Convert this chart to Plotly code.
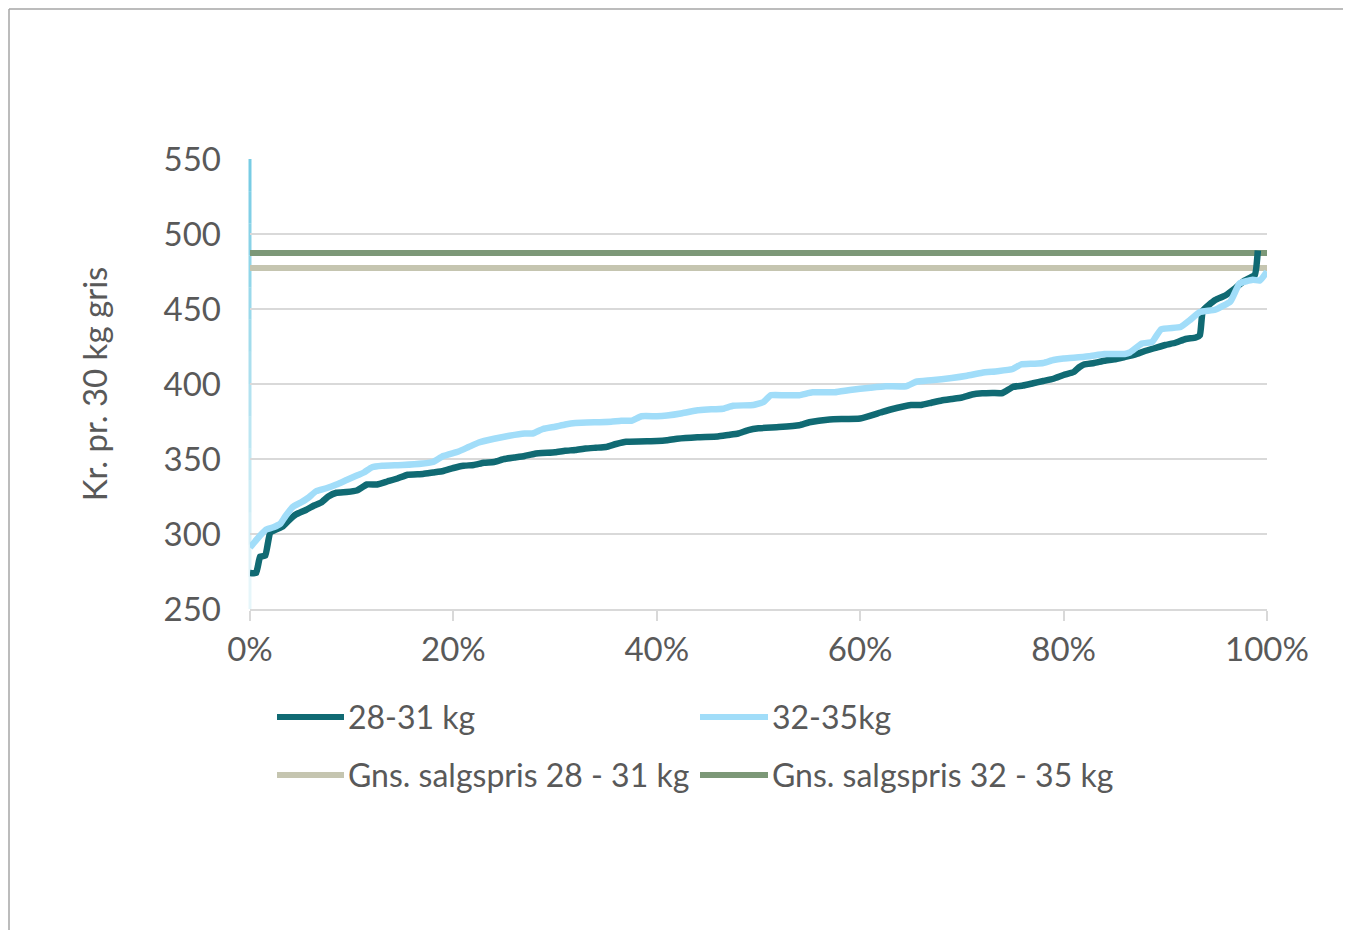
import plotly.graph_objects as go

# ---- data ----
x_28_31 = [0, 0.6, 1.0, 1.5, 2.0, 3.2, 3.8, 4.5, 5.5, 6.3, 7.0, 7.7, 8.5, 9.5, 10.5, 11.5, 12.5, 13.5,
           14.5, 15.5, 17, 18, 19, 20, 21, 22, 23, 24, 25, 26, 27, 28, 30, 31, 32, 33, 34, 35, 36, 37,
           40, 41, 42, 44, 46, 47, 48, 49, 50, 52, 54, 55, 57, 60, 62, 63, 65, 66, 67, 68, 69, 70, 71,
           72, 73, 74, 75, 76, 77, 78, 79, 80, 81, 81.5, 82, 83, 84, 85, 86, 87, 88, 89, 90, 91, 92,
           93, 93.4, 93.7, 94.9, 95.9, 96.9, 97.8, 98.8, 99.1]
y_28_31 = [274, 274, 285, 285.5, 301, 305, 309, 313, 316, 319, 321, 325, 327.5, 328, 329, 333, 333, 335,
           337, 339.5, 340, 341, 342, 344, 345.5, 346, 347.5, 348, 350, 351, 352, 353.5, 354.5, 355.5,
           356, 357, 357.5, 358, 360, 361.5, 362, 362.5, 363.5, 364.5, 365, 366, 367, 369.3, 370.5,
           371.3, 372.5, 374.5, 376.4, 377, 381, 383, 386, 386, 387.5, 389, 390, 391, 393, 393.8, 394,
           394, 398, 399, 400.5, 402, 403.5, 406, 408, 411, 413, 414, 415.5, 416.5, 418, 419.5, 422,
           424, 426, 427.5, 430, 431, 432.5, 449, 456, 459, 464, 469, 472.7, 489]

x_32_35 = [0, 0.5, 1.0, 1.6, 2.3, 3.0, 3.5, 4.2, 5.0, 5.7, 6.5, 7.5, 8.5, 9.5, 10.5, 11.2, 12.0, 13, 15,
           17, 18, 19, 20.5, 21.5, 22.5, 24, 25.5, 27, 27.8, 28.8, 30, 31, 32, 34, 35.5, 36.5, 37.5,
           38.5, 40, 41, 42.5, 44, 45, 46.5, 47.5, 49.5, 50.5, 51.2, 52.5, 54, 55.3, 57.5, 59, 61,
           62.5, 64.5, 65.5, 67, 69, 70.5, 72, 73.5, 75, 75.8, 77, 78, 79, 80, 81, 82.5, 84, 86, 86.5,
           87.7, 88.7, 89.6, 91.5, 92.4, 93.4, 94.9, 96.4, 97.3, 98.6, 99.3, 100]
y_32_35 = [291, 295, 299, 303, 304.5, 307, 312, 318, 321, 324, 328.5, 330.5, 333, 336, 339, 341, 344.5,
           345.5, 346, 347, 348, 352, 355, 358, 361, 363.5, 365.5, 367, 367, 370, 371.5, 373, 374,
           374.5, 374.8, 375.5, 375.5, 378.5, 378.5, 379, 380.5, 382.5, 383, 383.5, 385.5, 386, 388,
           392.5, 392.5, 392.5, 394.5, 394.5, 396, 397.5, 398.5, 398.5, 401.5, 402.5, 404, 405.5,
           407.5, 408.5, 410, 413, 413.5, 414, 416, 417, 417.5, 418.5, 420, 420, 421, 427, 428, 436.5,
           438, 442.5, 448, 449.5, 455, 467, 469.5, 469, 475]

avg_28_31 = 477.3
avg_32_35 = 487.3
avg_x = [0, 100]

names = ["28-31 kg", "32-35kg", "Gns. salgspris 28 - 31 kg", "Gns. salgspris 32 - 35 kg"]
colors = ["#106a73", "#a1ddf9", "#c5c5b0", "#7c9877"]

y_ticks = [250, 300, 350, 400, 450, 500, 550]
x_ticks = [0, 20, 40, 60, 80, 100]
y_title = "Kr. pr. 30 kg gris"

FONT = "Lato"
TXT = "#595959"

fig = go.Figure()
fig.add_trace(go.Scatter(x=avg_x, y=[avg_28_31, avg_28_31], mode="lines", name=names[2],
                         line=dict(color=colors[2], width=6)))
fig.add_trace(go.Scatter(x=avg_x, y=[avg_32_35, avg_32_35], mode="lines", name=names[3],
                         line=dict(color=colors[3], width=6)))
fig.add_trace(go.Scatter(x=x_28_31, y=y_28_31, mode="lines", name=names[0],
                         line=dict(color=colors[0], width=6.5, shape="spline", smoothing=0.4)))
fig.add_trace(go.Scatter(x=x_32_35, y=y_32_35, mode="lines", name=names[1],
                         line=dict(color=colors[1], width=6.5, shape="spline", smoothing=0.4)))

# page coordinates of the plot area (the page body has an 8px margin)
OFF = 8
W, H = 1351 - OFF, 930 - OFF
L, R, T, B = 250, 1267, 159, 609
PW, PH = R - L, B - T


def px(x):
    return (x - L) / PW


def py(y):
    return (B - y) / PH


shapes = []
# outer border (left and top edges are the only visible ones)
shapes.append(dict(type="line", xref="paper", yref="paper", x0=px(OFF + 1), x1=px(OFF + 1), y0=py(935), y1=py(OFF + 1),
                   line=dict(color="#a6a6a6", width=1.5), layer="below"))
shapes.append(dict(type="line", xref="paper", yref="paper", x0=px(OFF + 1), x1=px(1355), y0=py(OFF + 1), y1=py(OFF + 1),
                   line=dict(color="#a6a6a6", width=1.5), layer="below"))
# gradient-like light blue y axis line
n = 14
for i in range(n):
    a = 1 - i / n
    shapes.append(dict(type="line", xref="paper", yref="paper", x0=0, x1=0,
                       y0=1 - (i + 1) / n, y1=1 - i / n,
                       line=dict(color="rgba(120,204,228,%.3f)" % (0.12 + 0.88 * a), width=3),
                       layer="below"))

annotations = []
rows = [(717, 277, 344, 348), (717, 700, 768, 772), (775, 277, 344, 348), (775, 700, 768, 772)]
for (yy, xa, xb, xt), k in zip(rows, range(4)):
    shapes.append(dict(type="line", xref="paper", yref="paper", x0=px(xa), x1=px(xb), y0=py(yy), y1=py(yy),
                       line=dict(color=colors[k], width=6)))
    annotations.append(dict(xref="paper", yref="paper", x=px(xt - 2), y=py(yy - 1), xanchor="left", yanchor="middle",
                            text=names[k], showarrow=False, font=dict(family=FONT, size=32, color=TXT)))

fig.update_layout(
    width=W, height=H,
    margin=dict(l=L - OFF, r=W - (R - OFF), t=T - OFF, b=H - (B - OFF)),
    paper_bgcolor="white", plot_bgcolor="white",
    showlegend=False,
    font=dict(family=FONT, color=TXT, size=33),
    shapes=shapes, annotations=annotations,
    xaxis=dict(range=[0, 100], tickvals=x_ticks, ticktext=[f"{v}%" for v in x_ticks],
               showgrid=False, zeroline=False, showline=True, linecolor="#d9d9d9", linewidth=2,
               ticks="outside", ticklen=10, tickwidth=2, tickcolor="#d9d9d9",
               tickfont=dict(family=FONT, size=33, color=TXT)),
    yaxis=dict(range=[250, 550], tickvals=y_ticks, showgrid=True, gridcolor="#d9d9d9", gridwidth=2,
               zeroline=False, showline=False, ticks="", ticklabelstandoff=28,
               tickfont=dict(family=FONT, size=33, color=TXT),
               title=dict(text=y_title, font=dict(family=FONT, size=33, color=TXT), standoff=46)),
)

fig.write_html("out.html")
